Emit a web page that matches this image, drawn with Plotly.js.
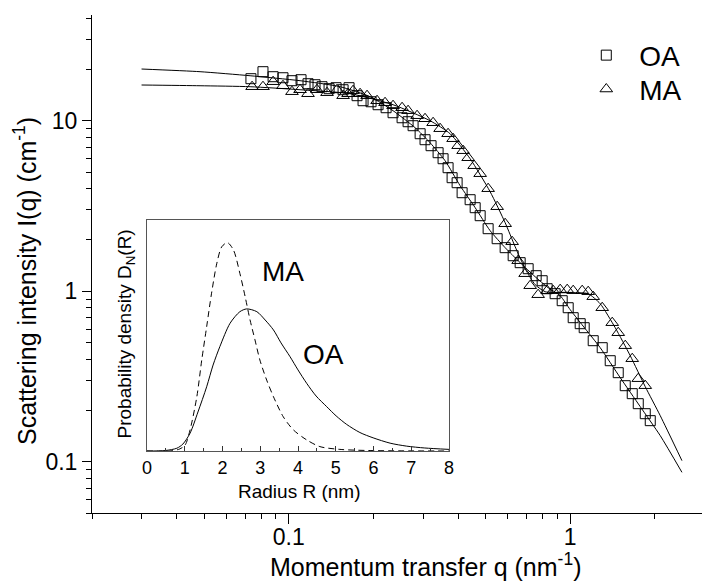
<!DOCTYPE html>
<html>
<head>
<meta charset="utf-8">
<script src="https://cdn.plot.ly/plotly-3.0.1.min.js"></script>
<style>html,body{margin:0;padding:0;background:#fff;}#chart{width:702px;height:581px;}</style>
</head>
<body>
<div id="chart"></div>
<script>
// ---- Main plot: measured scattering data ----
const qOA = [0.0734,0.0810,0.0880,0.0954,0.1027,0.1106,0.1171,0.1240,0.1313,0.1391,0.1473,0.1560,0.1638,0.1749,0.1837,0.1961,0.2077,0.2218,0.2348,0.2528,0.2655,0.2766,0.2930,0.3050,0.3204,0.3394,0.3535,0.3683,0.3806,0.3965,0.4131,0.4411,0.4597,0.4788,0.5111,0.5502,0.5874,0.6272,0.6642,0.7090,0.7571,0.7951,0.8284,0.8842,0.9367,0.9838,1.0249,1.0853,1.1214,1.2073,1.2996,1.3877,1.4815,1.5690,1.6615,1.7453,1.8481,1.9253];
const iOA = [17.64,19.39,18.12,17.87,17.17,17.40,16.48,16.26,15.83,15.41,15.62,15.20,15.62,14.02,13.10,12.92,12.41,11.92,11.14,10.41,9.866,9.348,8.390,7.738,7.136,6.492,5.985,5.301,4.632,4.329,3.782,3.441,3.089,2.773,2.326,2.032,1.800,1.615,1.470,1.355,1.233,1.152,1.034,0.9669,0.8796,0.8000,0.6992,0.6448,0.6108,0.5125,0.4662,0.3911,0.3327,0.2791,0.2506,0.2189,0.1912,0.1740];

const qMA = [0.0741,0.0810,0.0880,0.0954,0.1027,0.1097,0.1171,0.1260,0.1368,0.1485,0.1560,0.1625,0.1693,0.1793,0.1898,0.2060,0.2199,0.2348,0.2528,0.2655,0.2858,0.3050,0.3258,0.3450,0.3683,0.3837,0.3998,0.4165,0.4340,0.4559,0.4788,0.5111,0.5502,0.5874,0.6220,0.6534,0.6918,0.7207,0.7695,0.8284,0.8699,0.9215,0.9759,1.0249,1.1032,1.1588,1.2073,1.2996,1.4106,1.4815,1.5690,1.6615,1.7453,1.8481];
const iMA = [15.83,15.83,16.94,16.04,14.80,15.20,14.40,15.20,14.60,15.20,14.02,14.40,15.00,14.40,14.02,13.10,12.75,12.25,11.92,11.45,10.70,10.27,9.734,8.978,8.390,7.843,7.136,6.670,6.067,5.446,4.889,3.993,3.131,2.488,1.951,1.510,1.267,1.077,0.9539,1.007,1.007,1.021,1.021,1.007,1.007,0.9934,0.9286,0.8000,0.6535,0.5708,0.4791,0.4018,0.3068,0.2791];

// ---- Main plot: model fits ----
const qFitOA = [0.0300,0.0484,0.0729,0.1097,0.1522,0.1945,0.2348,0.2812,0.3178,0.3594,0.4064,0.4597,0.5195,0.5874,0.6642,0.7508,0.8353,0.9215,1.000,1.1306,1.2785,1.5061,1.7741,2.0893,2.4952];
const iFitOA = [20.10,19.39,18.36,17.17,15.83,13.83,11.45,9.099,7.430,5.826,4.158,3.089,2.264,1.800,1.470,1.216,1.048,0.9410,0.7792,0.6026,0.4662,0.3110,0.2102,0.1421,0.0866];
const qFitMA = [0.0300,0.0484,0.0729,0.1097,0.1652,0.2348,0.3178,0.3744,0.4411,0.5195,0.5874,0.6375,0.6918,0.7508,0.8149,0.9215,1.0418,1.1588,1.2785,1.4454,1.6345,1.8481,2.0893,2.4952];
const iFitMA = [16.20,16.04,15.83,15.20,14.40,12.41,10.00,8.390,5.985,3.833,2.522,1.824,1.355,1.092,0.9934,0.9799,0.9799,0.9669,0.8447,0.6108,0.4184,0.2754,0.1861,0.1014];

// ---- Inset: size distributions ----
const rOA = [0,0.48,0.79,0.95,1.14,1.35,1.58,1.75,1.93,2.20,2.46,2.64,2.91,3.13,3.35,3.55,3.79,4.00,4.23,4.48,4.76,5.01,5.29,5.64,5.99,6.44,6.88,7.36,8.00];
const dOA = [0,0.002,0.012,0.030,0.077,0.169,0.278,0.372,0.452,0.553,0.603,0.615,0.603,0.567,0.524,0.468,0.408,0.351,0.293,0.238,0.192,0.152,0.115,0.080,0.057,0.034,0.021,0.013,0.007];
const rMA = [0,0.61,0.87,1.01,1.14,1.32,1.45,1.58,1.71,1.85,1.98,2.13,2.29,2.46,2.60,2.73,2.86,2.99,3.17,3.35,3.61,3.88,4.23,4.58,5.11,5.91,8.00];
const dMA = [0,0,0.009,0.026,0.091,0.235,0.394,0.538,0.683,0.813,0.884,0.902,0.870,0.769,0.668,0.567,0.481,0.394,0.307,0.235,0.148,0.091,0.048,0.019,0.007,0.002,0];

// ---- Tick labels ----
const xTickVals = [0.1, 1];
const xTickText = ['0.1', '1'];
const xMinorVals = [0.02,0.03,0.04,0.05,0.06,0.07,0.08,0.09,0.2,0.3,0.4,0.5,0.6,0.7,0.8,0.9,2];
const yTickVals = [0.1, 1, 10];
const yTickText = ['0.1', '1', '10'];
const yMinorVals = [0.05,0.06,0.07,0.08,0.09,0.2,0.3,0.4,0.5,0.6,0.7,0.8,0.9,2,3,4,5,6,7,8,9,20,30,40];
const insetTickVals = [0,1,2,3,4,5,6,7,8];

const FONT = 'Arial, "Liberation Sans", Helvetica, sans-serif';

const traces = [
  {x: qFitOA, y: iFitOA, type:'scatter', mode:'lines', line:{color:'black', width:1, shape:'spline', smoothing:0.6}, showlegend:false, hoverinfo:'skip'},
  {x: qFitMA, y: iFitMA, type:'scatter', mode:'lines', line:{color:'black', width:1, shape:'spline', smoothing:0.6}, showlegend:false, hoverinfo:'skip'},
  {x: qOA, y: iOA, type:'scatter', mode:'markers', name:'OA', legend:'legend', marker:{symbol:'square-open', size:10, color:'black', line:{width:1, color:'black'}}},
  {x: qMA, y: iMA, type:'scatter', mode:'markers', name:'MA', legend:'legend2', marker:{symbol:'triangle-up-open', size:11, color:'black', line:{width:1, color:'black'}}},
  {x: rOA, y: dOA, xaxis:'x2', yaxis:'y2', type:'scatter', mode:'lines', line:{color:'black', width:1, shape:'spline', smoothing:0.8}, showlegend:false, hoverinfo:'skip'},
  {x: rMA, y: dMA, xaxis:'x2', yaxis:'y2', type:'scatter', mode:'lines', line:{color:'black', width:1, dash:'6px,4px', shape:'spline', smoothing:0.8}, showlegend:false, hoverinfo:'skip'}
];

const legendStyle = (yPos) => ({x:0.789, xanchor:'left', y:yPos, yanchor:'top', font:{size:28, family:FONT, color:'black'}, itemwidth:56, bgcolor:'rgba(0,0,0,0)', borderwidth:0, tracegroupgap:0});

const layout = {
  width:702, height:581,
  margin:{l:92, r:0, t:15, b:68, pad:0},
  paper_bgcolor:'white', plot_bgcolor:'white',
  font:{family:FONT, color:'black', size:18},
  showlegend:true,
  legend:legendStyle(0.969),
  legend2:legendStyle(0.901),
  xaxis:{type:'log', domain:[0,1], range:[Math.log10(0.02), Math.log10(2.94)], tickmode:'array', tickvals:xTickVals, ticktext:xTickText,
    ticks:'outside', ticklen:10, tickwidth:1, tickcolor:'black', showline:true, linecolor:'black', linewidth:1,
    showgrid:false, zeroline:false, tickfont:{size:23}, ticklabelstandoff:-7,
    minor:{tickmode:'array', tickvals:xMinorVals, ticks:'outside', ticklen:5, tickwidth:1, tickcolor:'black', showgrid:false}},
  yaxis:{type:'log', domain:[0,1], range:[Math.log10(0.05), Math.log10(41.7)], tickmode:'array', tickvals:yTickVals, ticktext:yTickText,
    ticks:'outside', ticklen:9, tickwidth:1, tickcolor:'black', showline:true, linecolor:'black', linewidth:1,
    showgrid:false, zeroline:false, tickfont:{size:23},
    minor:{tickmode:'array', tickvals:yMinorVals, ticks:'outside', ticklen:5, tickwidth:1, tickcolor:'black', showgrid:false}},
  xaxis2:{domain:[0.0902, 0.5852], anchor:'y2', range:[0,8], tickmode:'array', tickvals:insetTickVals,
    ticks:'inside', ticklen:5, tickwidth:1, tickcolor:'#333', showline:true, mirror:true, linecolor:'#555', linewidth:1,
    showgrid:false, zeroline:false, tickfont:{size:18},
    minor:{dtick:0.5, ticks:'inside', ticklen:3, tickcolor:'#333', showgrid:false}},
  yaxis2:{domain:[0.1245, 0.5884], anchor:'x2', range:[0,1], showticklabels:false, ticks:'',
    showline:true, mirror:true, linecolor:'#555', linewidth:1, showgrid:false, zeroline:false},
  annotations:[
    {text:'Momentum transfer q (nm<sup>-1</sup>)', xref:'paper', yref:'paper', x:0.5475, y:-0.105, xanchor:'center', yanchor:'middle', showarrow:false, font:{size:25}},
    {text:'Scattering intensity I(q) (cm<sup>-1</sup>)', xref:'paper', yref:'paper', x:-0.1098, y:0.4659, xanchor:'center', yanchor:'middle', textangle:-90, showarrow:false, font:{size:25}},
    {text:'Radius R (nm)', xref:'paper', yref:'paper', x:0.3393, y:0.0428, xanchor:'center', yanchor:'middle', showarrow:false, font:{size:19}},
    {text:'Probability density D<sub>N</sub>(R)', xref:'paper', yref:'paper', x:0.0557, y:0.3604, xanchor:'center', yanchor:'middle', textangle:-90, showarrow:false, font:{size:19}},
    {text:'MA', xref:'x2', yref:'y2', x:3.61, y:0.776, xanchor:'center', yanchor:'middle', showarrow:false, font:{size:28}},
    {text:'OA', xref:'x2', yref:'y2', x:4.67, y:0.416, xanchor:'center', yanchor:'middle', showarrow:false, font:{size:28}}
  ]
};

Plotly.newPlot('chart', traces, layout, {displayModeBar:false, staticPlot:true});
</script>
</body>
</html>
